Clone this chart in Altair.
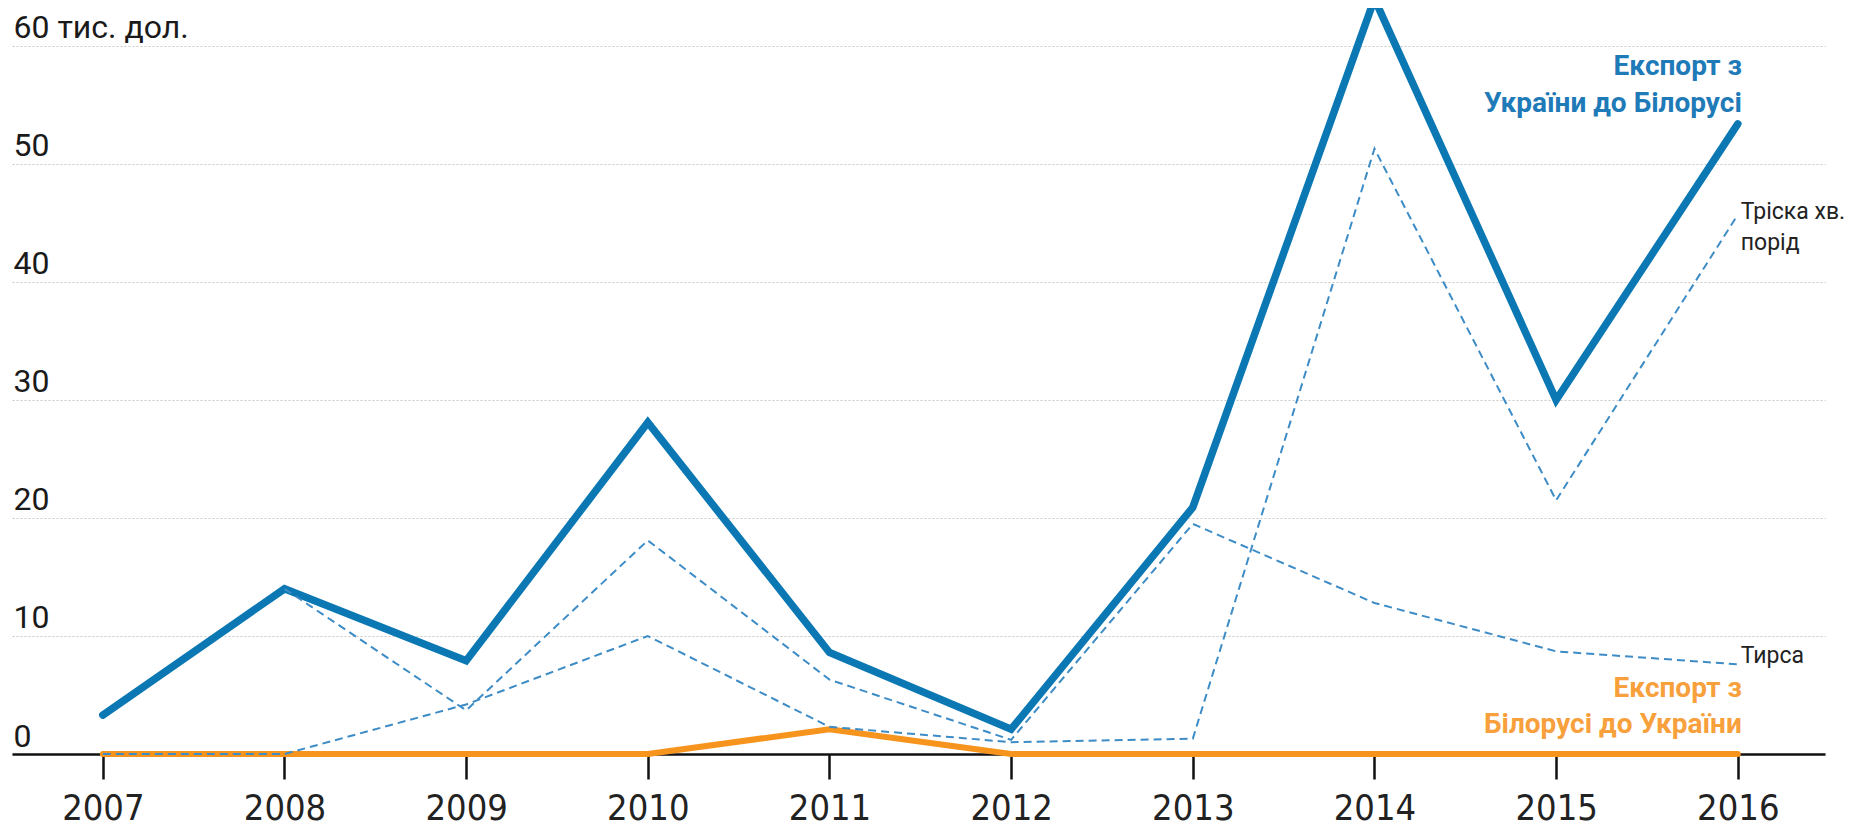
import altair as alt
import pandas as pd

years = list(range(2007, 2017))
# Export from Ukraine to Belarus, thousand USD
export_ua_by = [3.3, 14.0, 7.9, 28.1, 8.6, 2.1, 20.9, 64.0, 30.0, 53.4]
# Export from Belarus to Ukraine
export_by_ua = [0, 0, 0, 0, 2.1, 0, 0, 0, 0, 0]
# Sawdust (Тирса), no value drawn in 2007
sawdust = [None, 14.0, 3.7, 18.1, 6.3, 1.2, 19.5, 12.8, 8.7, 7.6]
# Wood chips (Тріска хв. порід)
chips = [0, 0, 4.2, 10.0, 2.3, 1.0, 1.3, 51.3, 21.5, 45.7]

y_ticks = [0, 10, 20, 30, 40, 50, 60]

blue_label = ["Експорт з", "України до Білорусі"]
blue_label_y = [57.5, 54.4]
orange_label = ["Експорт з", "Білорусі до України"]
orange_label_y = [4.86, 1.78]
gray_label = ["Тріска хв.", "порід", "Тирса"]
gray_label_y = [45.9, 43.3, 8.3]


def frame(vals):
    return pd.DataFrame({"year": years, "value": vals}).dropna()


def label_frame(texts, ys):
    return pd.DataFrame({"year": [2016] * len(texts), "value": ys, "text": texts})


x_enc = alt.X(
    "year:Q",
    scale=alt.Scale(domain=[2006.5, 2016.48], nice=False, zero=False),
    axis=alt.Axis(
        values=years, format="d", title=None, grid=False,
        domainColor="#111111", domainWidth=2.5,
        tickColor="#111111", tickWidth=2.5, tickSize=25,
        labelPadding=12, labelFont="Liberation Sans Narrow, DejaVu Sans Condensed",
        labelFontSize=36, labelColor="#222222", labelFlush=False,
    ),
)
y_enc = alt.Y(
    "value:Q",
    scale=alt.Scale(domain=[0, 63.22], nice=False, zero=True),
    axis=alt.Axis(
        values=y_ticks, title=None, domain=False, ticks=False, tickSize=0,
        labelAlign="left", labelBaseline="alphabetic", labelPadding=-1,
        labelOffset=-8, labelFont="Roboto", labelFontSize=32,
        labelColor="#1a1a1a", labelFlush=False, labelOverlap=False,
        labelExpr="datum.value == 60 ? '60 тис. дол.' : datum.label",
        grid=True, gridColor="#c8c8c8", gridDash=[2, 2], gridWidth=1,
    ),
)

orange_line = alt.Chart(frame(export_by_ua)).mark_line(
    color="#f7941d", strokeWidth=6, strokeCap="round"
).encode(x=x_enc, y=y_enc)

main_line = alt.Chart(frame(export_ua_by)).mark_line(
    color="#0b78b4", strokeWidth=7.5, strokeCap="round"
).encode(x=x_enc, y=y_enc)

dash_saw = alt.Chart(frame(sawdust)).mark_line(
    color="#3d8cc6", strokeWidth=2, strokeDash=[8, 5]
).encode(x=x_enc, y=y_enc)

dash_chips = alt.Chart(frame(chips)).mark_line(
    color="#3d8cc6", strokeWidth=2, strokeDash=[8, 5]
).encode(x=x_enc, y=y_enc)

blue_text = alt.Chart(label_frame(blue_label, blue_label_y)).mark_text(
    align="right", baseline="alphabetic", dx=4, font="Roboto",
    fontWeight="bold", fontSize=28, color="#1f7ab8"
).encode(x=x_enc, y=y_enc, text="text:N")

orange_text = alt.Chart(label_frame(orange_label, orange_label_y)).mark_text(
    align="right", baseline="alphabetic", dx=4, font="Roboto",
    fontWeight="bold", fontSize=28, color="#f7a03c"
).encode(x=x_enc, y=y_enc, text="text:N")

gray_text = alt.Chart(label_frame(gray_label, gray_label_y)).mark_text(
    align="left", baseline="middle", dx=3, font="Roboto",
    fontSize=23, color="#222222"
).encode(x=x_enc, y=y_enc, text="text:N")

chart = alt.layer(
    orange_line, main_line, dash_saw, dash_chips, blue_text, orange_text, gray_text
).properties(
    width=1813, height=746,
    padding={"left": 4, "top": 0, "right": 19, "bottom": 74},
    autosize=alt.AutoSizeParams(type="none"),
).configure(background="white").configure_view(stroke=None)

chart.save("out.html", embed_options={"renderer": "svg", "actions": False})
